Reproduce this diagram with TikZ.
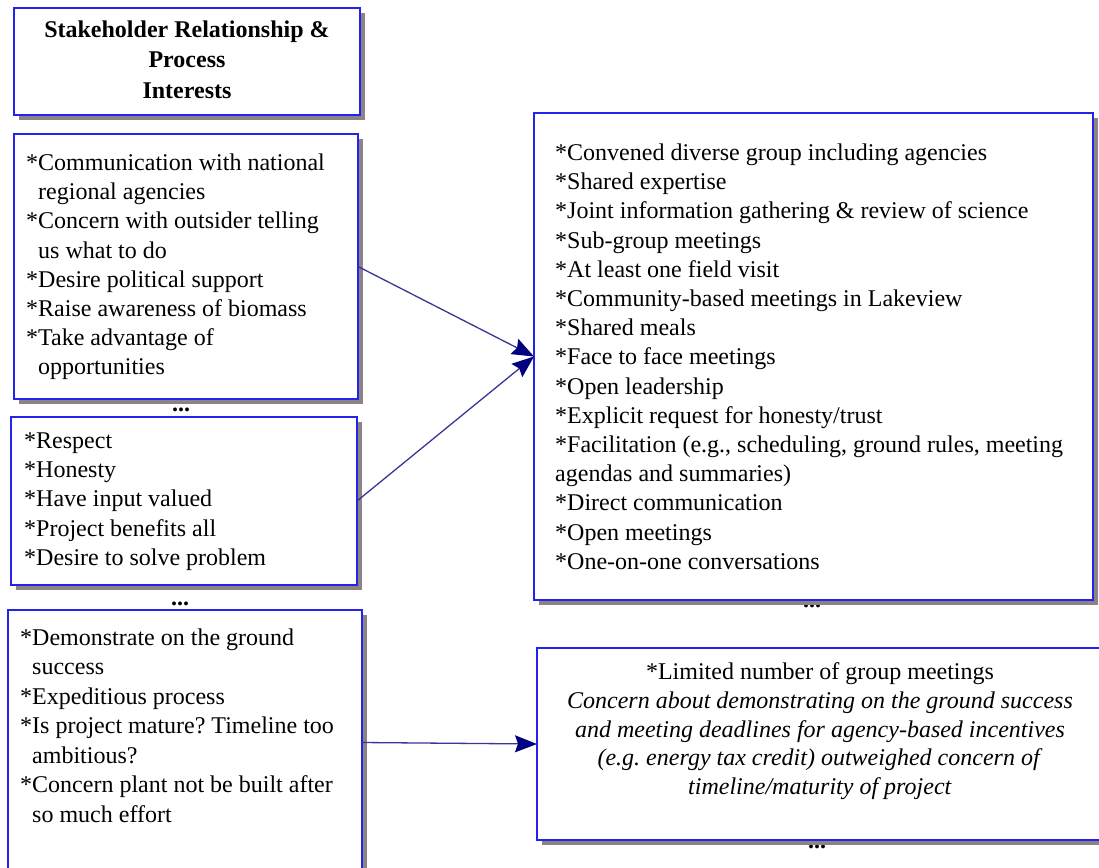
\documentclass[tikz,border=0pt]{standalone}
\usepackage{fontspec}
\setmainfont{Liberation Serif}
\usetikzlibrary{shadows,arrows.meta}
\frenchspacing

\definecolor{boxblue}{RGB}{35,35,235}
\definecolor{shadowgray}{RGB}{140,132,132}
\definecolor{arrownavy}{RGB}{0,0,128}
\definecolor{linenavy}{RGB}{55,55,150}

\tikzset{
  panel/.style={draw=boxblue, line width=2pt, fill=white, rectangle,
    anchor=north west, inner sep=0pt, outer sep=0pt,
    drop shadow={shadow xshift=5pt, shadow yshift=-5pt, fill=shadowgray, opacity=1}},
  body/.style={font=\fontsize{24}{29.2}\selectfont, inner sep=0pt, align=left, anchor=north west},
  more/.style={font=\fontsize{24}{29.2}\selectfont\bfseries, inner sep=0pt, anchor=base},
  conn/.style={draw=linenavy, line width=1.3pt,
    -{Stealth[length=22pt, width=17pt, inset=3pt, color=arrownavy, fill=arrownavy]}},
}

\begin{document}
\begin{tikzpicture}[x=1pt, y=-1pt]
\useasboundingbox (0,0) rectangle (1099,867);
\clip (0,0) rectangle (1099,867);
\fill[white] (0,0) rectangle (1099,867);

% continuation marks sitting below the panels
\node[more] (d2) at (181,411) {...};
\node[more] (d3) at (180,605) {...};
\node[more] (d5) at (812,607) {...};
\node[more] (d6) at (817,848) {...};

% panels
\node[panel, minimum width=346pt, minimum height=107pt] (b1) at (14,8) {};
\node[panel, minimum width=344pt, minimum height=265pt] (b2) at (14,134) {};
\node[panel, minimum width=346pt, minimum height=168pt] (b3) at (11,417) {};
\node[panel, minimum width=354pt, minimum height=265pt] (b4) at (8,610) {};
\node[panel, minimum width=559pt, minimum height=487pt] (b5) at (534,113) {};
\node[panel, minimum width=580pt, minimum height=192pt] (b6) at (537,648) {};

% panel texts
\node[body, align=center, anchor=north, font=\fontsize{24}{30.5}\selectfont\bfseries] (t1) at (187,20.6)
  {Stakeholder Relationship \&\\Process\\Interests};

\node[body] (t2) at (26,153.6)
  {*Communication with national\\
   \phantom{*}regional agencies\\
   {}*Concern with outsider telling\\
   \phantom{*}us what to do\\
   {}*Desire political support\\
   {}*Raise awareness of biomass\\
   {}*Take advantage of\\
   \phantom{*}opportunities};

\node[body] (t3) at (24,432.6)
  {*Respect\\
   {}*Honesty\\
   {}*Have input valued\\
   {}*Project benefits all\\
   {}*Desire to solve problem};

\node[body, font=\fontsize{24}{29.5}\selectfont] (t4) at (20,628.6)
  {*Demonstrate on the ground\\
   \phantom{*}success\\
   {}*Expeditious process\\
   {}*Is project mature? Timeline too\\
   \phantom{*}ambitious?\\
   {}*Concern plant not be built after\\
   \phantom{*}so much effort};

\node[body] (t5) at (555,143.6)
  {*Convened diverse group including agencies\\
   {}*Shared expertise\\
   {}*Joint information gathering \& review of science\\
   {}*Sub-group meetings\\
   {}*At least one field visit\\
   {}*Community-based meetings in Lakeview\\
   {}*Shared meals\\
   {}*Face to face meetings\\
   {}*Open leadership\\
   {}*Explicit request for honesty/trust\\
   {}*Facilitation (e.g., scheduling, ground rules, meeting\\
   agendas and summaries)\\
   {}*Direct communication\\
   {}*Open meetings\\
   {}*One-on-one conversations};

\node[body, align=center, anchor=north, font=\fontsize{24}{28.7}\selectfont] (t6) at (820,662.6)
  {*Limited number of group meetings\\
   \textit{Concern about demonstrating on the ground success}\\
   \textit{and meeting deadlines for agency-based incentives}\\
   \textit{(e.g. energy tax credit) outweighed concern of}\\
   \textit{timeline/maturity of project}};

% connectors
\draw[conn] (b2.east) -- (b5.west);
\draw[conn] (b3.east) -- (b5.west);
\draw[conn] (b4.east) -- (b6.west);
\end{tikzpicture}
\end{document}
